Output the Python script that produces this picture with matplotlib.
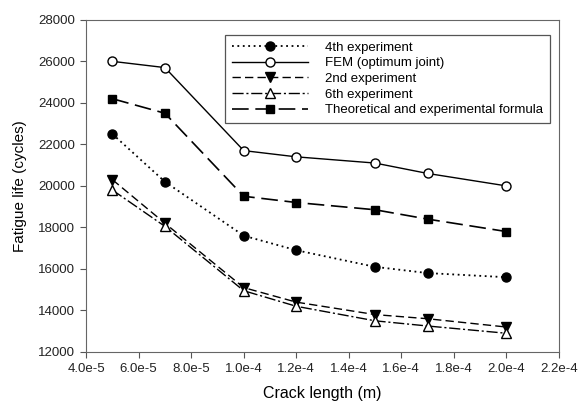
import matplotlib
matplotlib.use("Agg")
import matplotlib.pyplot as plt

plt.rcParams['font.family'] = ['Liberation Sans', 'DejaVu Sans']

# crack length (m)
crack = [5e-5, 7e-5, 1.0e-4, 1.2e-4, 1.5e-4, 1.7e-4, 2.0e-4]

# fatigue life (cycles)
exp4 = [22500, 20200, 17600, 16900, 16100, 15800, 15600]
fem = [26000, 25700, 21700, 21400, 21100, 20600, 20000]
exp2 = [20300, 18200, 15100, 14400, 13800, 13600, 13200]
exp6 = [19800, 18050, 14950, 14200, 13500, 13250, 12900]
theory = [24200, 23500, 19500, 19200, 18850, 18400, 17800]

xticks = [4e-5, 6e-5, 8e-5, 1.0e-4, 1.2e-4, 1.4e-4, 1.6e-4, 1.8e-4, 2.0e-4, 2.2e-4]
xlabels = ["4.0e-5", "6.0e-5", "8.0e-5", "1.0e-4", "1.2e-4", "1.4e-4",
           "1.6e-4", "1.8e-4", "2.0e-4", "2.2e-4"]

fig = plt.figure(figsize=(5.78, 4.05), dpi=100)
ax = fig.add_axes([0.149, 0.131, 0.818, 0.820])

ms = 6.5
ax.plot(crack, exp4, color='black', lw=1.3, ls=(0, (1, 2)), marker='o', ms=ms,
        label='4th experiment')
ax.plot(crack, fem, color='black', lw=1.0, ls='-', marker='o', ms=ms,
        mfc='white', label='FEM (optimum joint)')
ax.plot(crack, exp2, color='black', lw=1.0, ls=(0, (6, 3)), marker='v', ms=ms,
        label='2nd experiment')
ax.plot(crack, exp6, color='black', lw=1.0, ls=(0, (8, 2, 1.5, 2)), marker='^', ms=ms,
        mfc='white', label='6th experiment')
ax.plot(crack, theory, color='black', lw=1.2, ls=(0, (10, 4)), marker='s', ms=6,
        label='Theoretical and experimental formula')

ax.set_xlim(4e-5, 2.2e-4)
ax.set_ylim(12000, 28000)
ax.set_xticks(xticks)
ax.set_xticklabels(xlabels)
ax.set_yticks(range(12000, 28001, 2000))
ax.tick_params(labelsize=9.5, direction='out', length=4, pad=4, color='#555555',
               labelcolor='#222222')
for s in ax.spines.values():
    s.set_color('#666666')

ax.set_xlabel('Crack length (m)', fontsize=11.5, labelpad=8)
ax.set_ylabel('Fatigue life (cycles)', fontsize=11, labelpad=8)

leg = ax.legend(loc='upper right', fontsize=9.5, handlelength=5.8,
                fancybox=False, framealpha=1, edgecolor='#555555',
                borderpad=0.5, labelspacing=0.26, handletextpad=1.3,
                bbox_to_anchor=(0.995, 0.975))
leg.get_frame().set_linewidth(0.9)

fig.savefig('out.png', dpi=100)
